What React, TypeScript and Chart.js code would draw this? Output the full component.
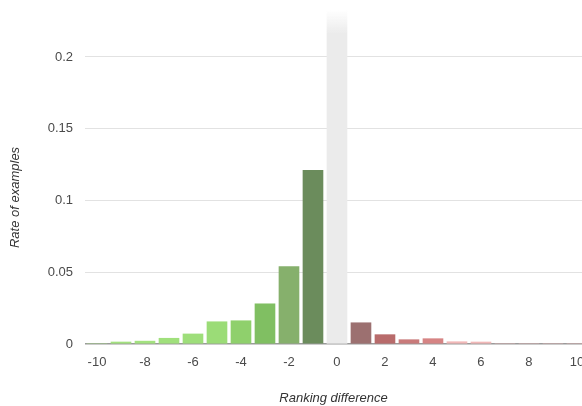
import React, { useEffect, useRef } from "react";
import { Chart, registerables } from "chart.js";

Chart.register(...registerables);

// ---- data ----
const rankingDiffs = [-10, -9, -8, -7, -6, -5, -4, -3, -2, -1, 0, 1, 2, 3, 4, 5, 6, 7, 8, 9, 10];
const rates = [0, 0.0014, 0.002, 0.004, 0.007, 0.0155, 0.0162, 0.028, 0.054, 0.121, 0, 0.0148, 0.0065, 0.003, 0.0037, 0.0016, 0.0014, 0, 0, 0, 0];
const barColors = [
  "#a3e27f", "#a3e27f", "#a3e27f", "#a0e07c", "#9ede7a", "#9bdc77", "#8fd06c", "#80bf62", "#86b06c", "#6b8c5c",
  "#ebebeb",
  "#9c7070", "#b86b6b", "#c97a7a", "#d68484", "#f2b8b8", "#f2b8b8", "#f2b8b8", "#f2b8b8", "#f2b8b8", "#f2b8b8",
];
// the "no change" column runs off the top of the scale
const highlightX = [0];
const highlightValue = [0.6];
const xTicks = [-10, -8, -6, -4, -2, 0, 2, 4, 6, 8, 10];
const yTicks = [0, 0.05, 0.1, 0.15, 0.2];
const xTitle = "Ranking difference";
const yTitle = "Rate of examples";

const FONT = '"Liberation Sans", Arial, sans-serif';

export default function App() {
  const ref = useRef<HTMLCanvasElement | null>(null);

  useEffect(() => {
    if (!ref.current) return;
    const yTitlePlugin = {
      id: "yTitle",
      afterDraw(chart: any) {
        const { ctx, scales } = chart;
        const y = (scales.y.getPixelForValue(yTicks[0]) + scales.y.getPixelForValue(yTicks[yTicks.length - 1])) / 2;
        ctx.save();
        ctx.translate(15, y - 3);
        ctx.rotate(-Math.PI / 2);
        ctx.font = "italic 13px " + FONT;
        ctx.fillStyle = "#333";
        ctx.textAlign = "center";
        ctx.textBaseline = "middle";
        ctx.fillText(yTitle, 0, 0);
        ctx.restore();
      },
    };

    const chart = new Chart(ref.current, {
      type: "bar",
      data: {
        datasets: [
          {
            data: highlightX.map((x, i) => ({ x, y: highlightValue[i] })),
            backgroundColor: (c: any) => {
              const area = c.chart.chartArea;
              if (!area) return "#ebebeb";
              const g = c.chart.ctx.createLinearGradient(0, area.top, 0, area.top + 24);
              g.addColorStop(0, "rgba(235,235,235,0)");
              g.addColorStop(1, "rgba(235,235,235,1)");
              return g;
            },
            barThickness: 20,
            grouped: false,
            borderWidth: 0,
          },
          {
            data: rankingDiffs.map((x, i) => ({ x, y: rates[i] })),
            backgroundColor: barColors,
            barThickness: 20,
            grouped: false,
            borderWidth: 0,
          },
        ],
      },
      options: {
        animation: false,
        responsive: false,
        devicePixelRatio: 1,
        layout: { padding: { top: 10, left: 0, right: 0, bottom: 0 } },
        plugins: { legend: { display: false }, tooltip: { enabled: false } },
        scales: {
          x: {
            type: "linear",
            offset: false,
            min: -10.5,
            max: 10.21,
            grid: { display: false, drawTicks: false },
            border: { display: false },
            afterBuildTicks: (s: any) => {
              s.ticks = xTicks.map((v) => ({ value: v }));
            },
            afterFit: (s: any) => {
              s.height = 62;
              s.paddingLeft = 0;
              s.paddingRight = 0;
            },
            ticks: {
              padding: 11,
              color: "#4a4a4a",
              font: { family: FONT, size: 13 },
              maxRotation: 0,
              autoSkip: false,
              callback: (v: any) => String(v),
            },
            title: {
              display: true,
              text: xTitle,
              color: "#333",
              font: { family: FONT, size: 13, style: "italic" },
              padding: { top: 0, bottom: 0 },
            },
          },
          y: {
            min: 0,
            max: 0.2327,
            grid: {
              drawTicks: false,
              color: (c: any) => (c.tick && c.tick.value === 0 ? "#9a9a9a" : "#e2e2e2"),
              lineWidth: (c: any) => (c.tick && c.tick.value === 0 ? 1.5 : 1),
            },
            border: { display: false },
            afterBuildTicks: (s: any) => {
              s.ticks = yTicks.map((v) => ({ value: v }));
            },
            afterFit: (s: any) => {
              s.width = 85;
              s.paddingTop = 0;
              s.paddingBottom = 0;
            },
            ticks: {
              padding: 12,
              color: "#4a4a4a",
              font: { family: FONT, size: 13 },
              callback: (v: any) => String(v),
            },
          },
        },
      },
      plugins: [yTitlePlugin],
    } as any);
    return () => chart.destroy();
  }, []);

  return (
    <div style={{ position: "fixed", left: 0, top: 0, width: 582, height: 406, background: "#fff" }}>
      <canvas ref={ref} width={582} height={406} style={{ display: "block" }} />
    </div>
  );
}
